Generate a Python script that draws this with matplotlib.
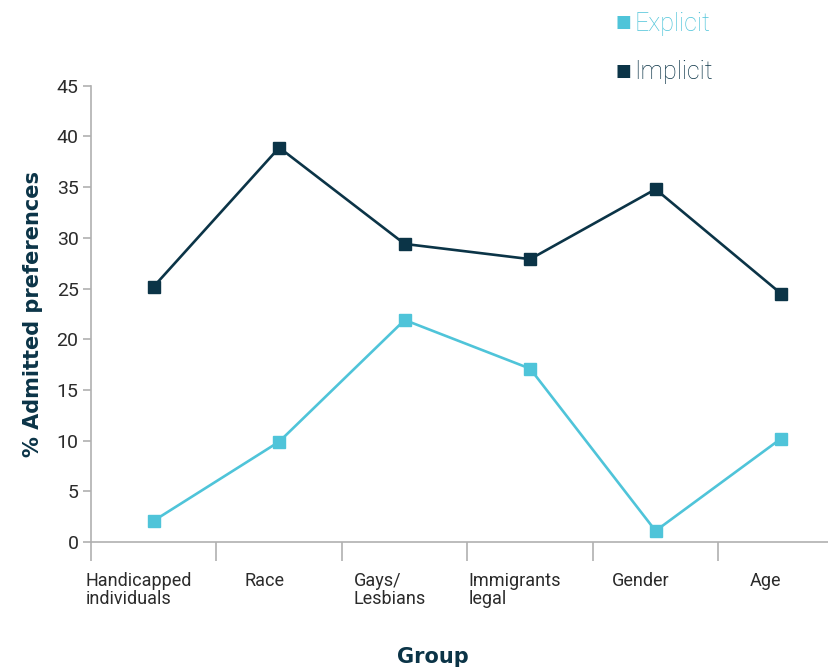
import matplotlib
matplotlib.use("Agg")
import matplotlib.pyplot as plt

plt.rcParams["font.family"] = ["Roboto", "DejaVu Sans"]

groups = ["Handicapped\nindividuals", "Race", "Gays/\nLesbians",
          "Immigrants\nlegal", "Gender", "Age"]
explicit = [2.1, 9.9, 21.9, 17.1, 1.1, 10.2]
implicit = [25.2, 38.9, 29.4, 27.9, 34.8, 24.5]
yticks = [0, 5, 10, 15, 20, 25, 30, 35, 40, 45]

C_EXP = "#4fc4d9"
C_IMP = "#0b3447"
C_AX = "#b0b0b0"
C_TXT = "#2b2b2b"

fig = plt.figure(figsize=(8.29, 6.70), dpi=100)
ax = fig.add_axes([0.1098, 0.191, 0.908, 0.681])

x = range(len(groups))
ax.plot(x, implicit, color=C_IMP, lw=1.9, marker="s", ms=8.5, label="Implicit")
ax.plot(x, explicit, color=C_EXP, lw=1.9, marker="s", ms=8.5, label="Explicit")

ax.set_xlim(-0.5, len(groups) - 0.5)
ax.set_ylim(0, 45)
ax.set_yticks(yticks)
ax.set_xticks([i - 0.5 for i in range(len(groups) + 1)])
ax.set_xticklabels([])
ax.tick_params(axis="x", length=14, width=1.2, color=C_AX)
ax.tick_params(axis="y", length=6, width=1.2, color=C_AX, labelsize=14,
               labelcolor=C_TXT, pad=3)
for s in ["top", "right"]:
    ax.spines[s].set_visible(False)
for s in ["left", "bottom"]:
    ax.spines[s].set_color(C_AX)
    ax.spines[s].set_linewidth(1.2)

for i, g in enumerate(groups):
    ax.text(i - 0.12, -3.0, g, ha="center", va="top", multialignment="left",
            fontsize=13, color=C_TXT, linespacing=0.95)

ax.set_ylabel("% Admitted preferences", fontsize=15, fontweight="bold",
              color=C_IMP, family="DejaVu Sans", labelpad=10)
fig.text(0.522, 0.02, "Group", ha="center", va="center", fontsize=15,
         fontweight="bold", color=C_IMP, family="DejaVu Sans")

# legend drawn as colored text with square markers
fig.text(0.752, 0.966, "\u25a0", fontsize=12, color=C_EXP, va="center", ha="center")
fig.text(0.765, 0.964, "Explicit", fontsize=18, color=C_EXP, va="center",
         fontweight="light")
fig.text(0.752, 0.894, "\u25a0", fontsize=12, color=C_IMP, va="center", ha="center")
fig.text(0.765, 0.892, "Implicit", fontsize=18, color=C_IMP, va="center",
         fontweight="light")

fig.savefig("out.png", dpi=100)
